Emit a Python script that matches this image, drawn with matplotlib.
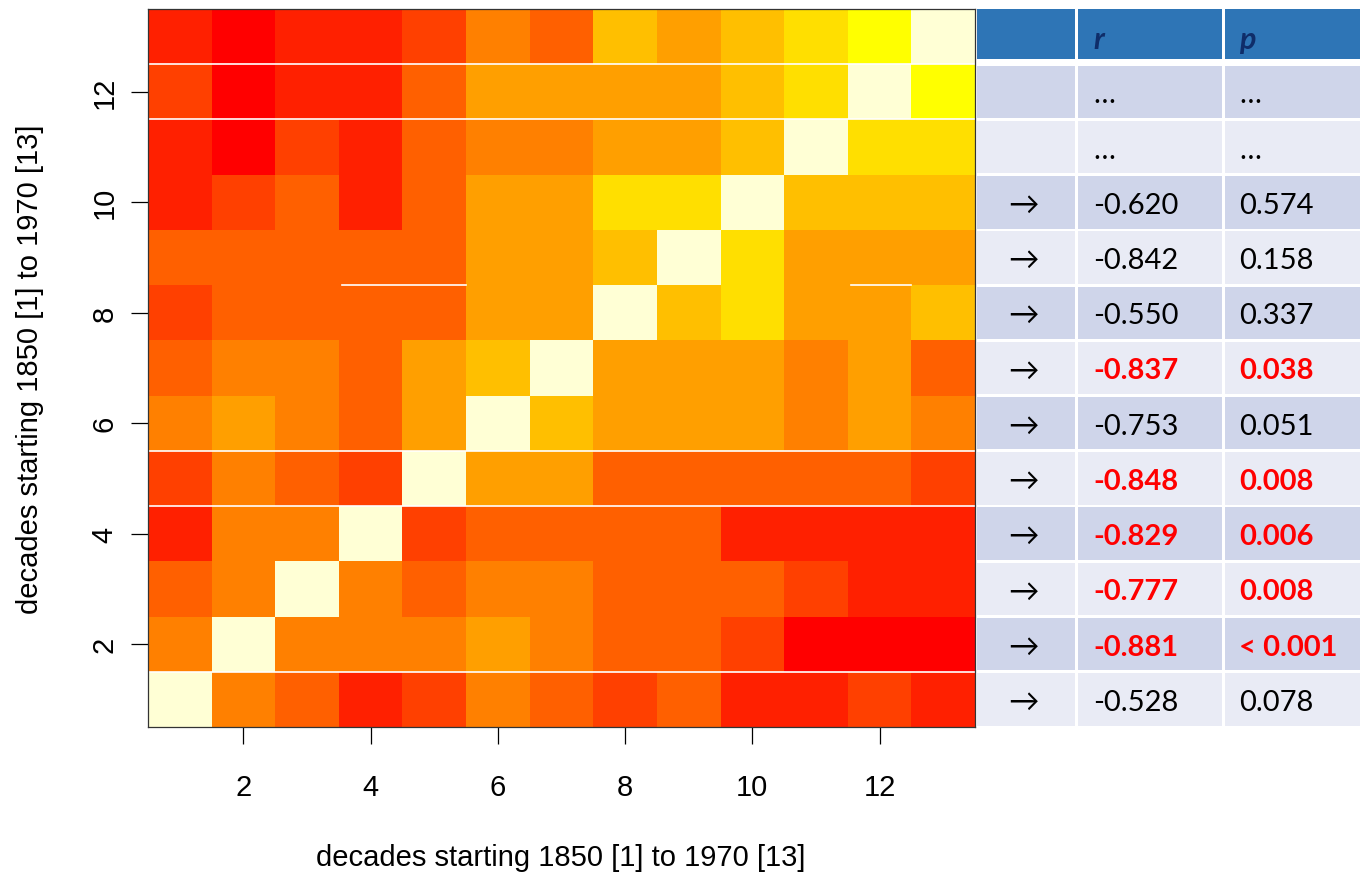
import numpy as np
import matplotlib.pyplot as plt
from matplotlib.colors import ListedColormap, BoundaryNorm
from matplotlib.patches import Rectangle

# R heat.colors(12)
heat = ['#FF0000', '#FF2000', '#FF4000', '#FF6000', '#FF8000', '#FF9F00',
        '#FFBF00', '#FFDF00', '#FFFF00', '#FFFF2A', '#FFFF80', '#FFFFD5']
D = 11  # diagonal

# colour level of each cell, decade 1 (bottom row) up to decade 13 (top row)
levels = [
    [D, 4, 3, 1, 2, 4, 3, 2, 3, 1, 1, 2, 1],
    [4, D, 4, 4, 4, 5, 4, 3, 3, 2, 0, 0, 0],
    [3, 4, D, 4, 3, 4, 4, 3, 3, 3, 2, 1, 1],
    [1, 4, 4, D, 2, 3, 3, 3, 3, 1, 1, 1, 1],
    [2, 4, 3, 2, D, 5, 5, 3, 3, 3, 3, 3, 2],
    [4, 5, 4, 3, 5, D, 6, 5, 5, 5, 4, 5, 4],
    [3, 4, 4, 3, 5, 6, D, 5, 5, 5, 4, 5, 3],
    [2, 3, 3, 3, 3, 5, 5, D, 6, 7, 5, 5, 6],
    [3, 3, 3, 3, 3, 5, 5, 6, D, 7, 5, 5, 5],
    [1, 2, 3, 1, 3, 5, 5, 7, 7, D, 6, 6, 6],
    [1, 0, 2, 1, 3, 4, 4, 5, 5, 6, D, 7, 7],
    [2, 0, 1, 1, 3, 5, 5, 5, 5, 6, 7, D, 8],
    [1, 0, 1, 1, 2, 4, 3, 6, 5, 6, 7, 8, D],
]

# table rows, decade 1 up to decade 12 (header sits beside decade 13)
r_vals = ['-0.528', '-0.881', '-0.777', '-0.829', '-0.848', '-0.753',
          '-0.837', '-0.550', '-0.842', '-0.620', '…', '…']
p_vals = ['0.078', '< 0.001', '0.008', '0.006', '0.008', '0.051',
          '0.038', '0.337', '0.158', '0.574', '…', '…']
signif = [False, True, True, True, True, False,
          True, False, False, False, False, False]
arrows = ['→'] * 10 + ['', '']

xlab = 'decades starting 1850 [1] to 1970 [13]'
ticks = [2, 4, 6, 8, 10, 12]

W, H = 1360, 878
fig = plt.figure(figsize=(W / 100, H / 100), dpi=100)

ax_l, ax_r, ax_t, ax_b = 148, 975, 10, 728
ax = fig.add_axes([ax_l / W, 1 - ax_b / H, (ax_r - ax_l) / W, (ax_b - ax_t) / H])

Z = np.array(levels)
n = Z.shape[0]
edges = np.arange(n + 1) + 0.5
cmap = ListedColormap(heat)
norm = BoundaryNorm(np.arange(len(heat) + 1) - 0.5, cmap.N)
ax.pcolormesh(edges, edges, Z, cmap=cmap, norm=norm)

# thin white seams visible in the original
for yy in [12.5, 11.5, 5.5, 4.5, 1.5]:
    ax.plot([0.5, 13.5], [yy, yy], color='white', lw=1.2)
for x0, x1 in [(3.55, 5.5), (11.55, 12.5)]:
    ax.plot([x0, x1], [8.5, 8.5], color='white', lw=1.2)

ax.set_xlim(0.5, 13.5)
ax.set_ylim(0.5, 13.5)
ax.set_xticks(ticks)
ax.set_xticklabels([str(t) for t in ticks], fontfamily='Liberation Sans')
ax.set_yticks(ticks)
ax.set_yticklabels([str(t) for t in ticks], rotation=90, va='center',
                   fontfamily='Liberation Sans')
ax.tick_params(axis='x', length=12, width=0.9, pad=21, labelsize=21)
ax.tick_params(axis='y', length=12, width=0.9, pad=9, labelsize=21)
for s in ax.spines.values():
    s.set_linewidth(0.9)
    s.set_color('#333333')

fig.text(561 / W, 1 - 858 / H, xlab, ha='center', va='center',
         fontsize=21, fontfamily='Liberation Sans')
fig.text(30 / W, 1 - 369 / H, xlab, ha='center', va='center', rotation=90,
         fontsize=21, fontfamily='Liberation Sans')

# table beside the heatmap
tb = fig.add_axes([ax_r / W, 1 - ax_b / H, (W - ax_r) / W, (ax_b - ax_t) / H])
tb.set_xlim(0, W - ax_r)
tb.set_ylim(0.5, 13.5)
tb.axis('off')

cols = [(2, 100), (103, 247), (250, 385)]
gap = 0.05
fam = ['Lato', 'DejaVu Sans']
fs = 21

for c0, c1 in cols:
    tb.add_patch(Rectangle((c0, 12.5 + 0.09), c1 - c0, 1 - 0.09,
                           facecolor='#2E75B6', edgecolor='none'))
tb.text(118, 13 - 0.2, 'r', fontsize=22, fontweight='bold', fontstyle='italic',
        color='#0F2D69', va='baseline', family=fam)
tb.text(264, 13 - 0.2, 'p', fontsize=22, fontweight='bold', fontstyle='italic',
        color='#0F2D69', va='baseline', family=fam)

for i in range(len(r_vals)):
    row = i + 1
    shade = '#E9EBF5' if row % 2 == 1 else '#CFD5EA'
    for c0, c1 in cols:
        tb.add_patch(Rectangle((c0, row - 0.5 + gap / 2), c1 - c0, 1 - gap,
                               facecolor=shade, edgecolor='none'))
    base = row - 0.19
    tb.text(48, base, arrows[i], fontsize=fs + 1, ha='center', va='baseline',
            color='black', family=fam)
    col = '#FF0000' if signif[i] else 'black'
    wt = 'bold' if signif[i] else 'normal'
    tb.text(118, base, r_vals[i], fontsize=fs, va='baseline', color=col,
            fontweight=wt, family=fam)
    tb.text(264, base, p_vals[i], fontsize=fs, va='baseline', color=col,
            fontweight=wt, family=fam)

fig.savefig('out.png', dpi=100)
